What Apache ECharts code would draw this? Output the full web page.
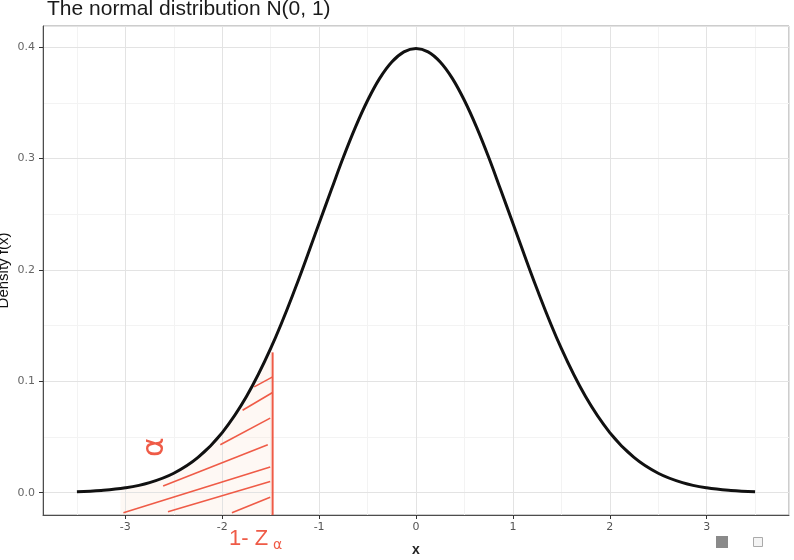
<!DOCTYPE html>
<html>
<head>
<meta charset="utf-8">
<script src="https://cdn.jsdelivr.net/npm/echarts@6/dist/echarts.min.js"></script>
<style>
html,body{margin:0;padding:0;background:#fff;}
#c{width:794px;height:560px;}
</style>
</head>
<body>
<div id="c"></div>
<script>
// ---- data ----
var titleText = 'The normal distribution N(0, 1)';
var xAxisTitle = 'x';
var yAxisTitle = 'Density f(x)';

// density curve points (x, f(x))
var curveX = [-3.5,-3.25,-3,-2.75,-2.5,-2.25,-2,-1.75,-1.5,-1.25,-1,-0.875,-0.75,-0.625,-0.5,-0.375,-0.25,-0.125,0,0.125,0.25,0.375,0.5,0.625,0.75,0.875,1,1.25,1.5,1.75,2,2.25,2.5,2.75,3,3.25,3.5];
var curveY = [0.0009,0.0020,0.0044,0.0091,0.0175,0.0317,0.0540,0.0863,0.1295,0.1826,0.2420,0.2717,0.3011,0.3282,0.3521,0.3720,0.3867,0.3958,0.3989,0.3958,0.3867,0.3720,0.3521,0.3282,0.3011,0.2717,0.2420,0.1826,0.1295,0.0863,0.0540,0.0317,0.0175,0.0091,0.0044,0.0020,0.0009];

// shaded tail (lightly tinted) under the curve
var tailX = [-3.05,-3,-2.75,-2.5,-2.25,-2,-1.75,-1.48];
var tailY = [0.0040,0.0044,0.0091,0.0175,0.0317,0.0540,0.0863,0.1330];

// hand-drawn cut-off line at z
var cutX = [-1.48,-1.48];
var cutY = [-0.02,0.126];

// hand-drawn hatch strokes: start and end points
var hatchStart = [[-3.02,-0.018],[-2.56,-0.017],[-1.90,-0.018],[-2.61,0.006],[-2.02,0.043],[-1.79,0.074],[-1.67,0.095]];
var hatchEnd   = [[-1.505,0.023],[-1.505,0.010],[-1.505,-0.004],[-1.53,0.043],[-1.505,0.067],[-1.48,0.090],[-1.48,0.104]];

// ---- build ----
function pairs(xs, ys){ return xs.map(function(x,i){ return [x, ys[i]]; }); }
var hatchData = hatchStart.map(function(s,i){ return {coords:[s, hatchEnd[i]]}; });

var red = '#ef5b47';
var chart = echarts.init(document.getElementById('c'), null, {renderer:'canvas'});
chart.setOption({
  animation:false,
  backgroundColor:'#fff',
  title:{
    text:titleText, left:42, top:-6,
    textStyle:{fontFamily:'Liberation Sans, Arial, sans-serif', fontSize:21, fontWeight:'normal', color:'#1a1a1a'}
  },
  grid:{left:43, right:5, top:26, bottom:45, show:true, borderColor:'#9a9a9a', borderWidth:1, backgroundColor:'#fff',
        containLabel:false, outerBoundsMode:'none'},
  xAxis:[{
    type:'value', min:-3.85, max:3.85, splitNumber:8,
    name:xAxisTitle, nameLocation:'middle', nameGap:28, nameMoveOverlap:false,
    nameTextStyle:{fontFamily:'Liberation Sans, Arial, sans-serif', fontSize:14, fontWeight:'bold', color:'#222'},
    axisLine:{show:true, onZero:false, lineStyle:{color:'#4d4d4d', width:1}},
    axisTick:{show:true, length:4, lineStyle:{color:'#333'}},
    axisLabel:{showMinLabel:false, showMaxLabel:false, fontSize:11, color:'#555', margin:7,
      fontFamily:'DejaVu Sans, sans-serif',
      formatter:function(v){ return String(v); }},
    splitLine:{show:true, lineStyle:{color:'#e3e3e3', width:1}},
    z:3
  },{
    type:'value', min:-3.85, max:3.85, splitNumber:15, position:'top',
    axisLine:{show:false}, axisTick:{show:false}, axisLabel:{show:false},
    splitLine:{show:true, lineStyle:{color:'#f3f3f3', width:1}},
    z:1
  }],
  yAxis:[{
    type:'value', min:-0.02, max:0.419, splitNumber:4,
    name:yAxisTitle, nameLocation:'middle', nameGap:32, nameRotate:90, nameMoveOverlap:false,
    nameTextStyle:{fontFamily:'Liberation Sans, Arial, sans-serif', fontSize:15, color:'#111'},
    axisLine:{show:true, onZero:false, lineStyle:{color:'#4d4d4d', width:1}},
    axisTick:{show:true, length:4, lineStyle:{color:'#333'}},
    axisLabel:{showMinLabel:false, showMaxLabel:false, fontSize:11, color:'#666', margin:8,
      fontFamily:'DejaVu Sans, sans-serif',
      formatter:function(v){ return v.toFixed(1); }},
    splitLine:{show:true, lineStyle:{color:'#e3e3e3', width:1}},
    z:3
  },{
    type:'value', min:-0.02, max:0.419, splitNumber:9, position:'right',
    axisLine:{show:false}, axisTick:{show:false}, axisLabel:{show:false},
    splitLine:{show:true, lineStyle:{color:'#f3f3f3', width:1}},
    z:1
  }],
  series:[
    {
      type:'line', data:pairs(tailX, tailY), smooth:0.3, symbol:'none',
      lineStyle:{width:0}, areaStyle:{color:'rgba(252,226,210,0.35)', origin:'start'},
      z:2, silent:true
    },
    {
      type:'lines', coordinateSystem:'cartesian2d', data:hatchData,
      lineStyle:{color:red, width:1.6, opacity:1, curveness:0}, z:4, silent:true
    },
    {
      type:'line', data:pairs(cutX, cutY), symbol:'none',
      lineStyle:{color:red, width:2}, z:4, clip:false, silent:true
    },
    {
      type:'line', data:pairs(curveX, curveY), smooth:0.4, symbol:'none',
      lineStyle:{color:'#111', width:3}, z:5, silent:true
    }
  ],
  graphic:[
    {type:'text', left:229, top:528, z:10,
     style:{text:'1- Z', fontSize:22, fill:red, fontFamily:'Liberation Sans, Arial, sans-serif'}},
    {type:'text', left:273, top:538, z:10,
     style:{text:'α', fontSize:14, fill:red, fontFamily:'DejaVu Sans, sans-serif'}},
    {type:'text', x:155, y:447, rotation:Math.PI/2, z:10,
     style:{text:'α', fontSize:30, fill:red, fontFamily:'DejaVu Sans, sans-serif', align:'center', verticalAlign:'middle'}},
    {type:'rect', shape:{x:716, y:536, width:12, height:12}, style:{fill:'#8a8a8a'}, z:10},
    {type:'rect', shape:{x:753.5, y:537.5, width:9, height:9}, style:{fill:'#f4f4f4', stroke:'#aaa', lineWidth:1}, z:10}
  ]
});
</script>
</body>
</html>
